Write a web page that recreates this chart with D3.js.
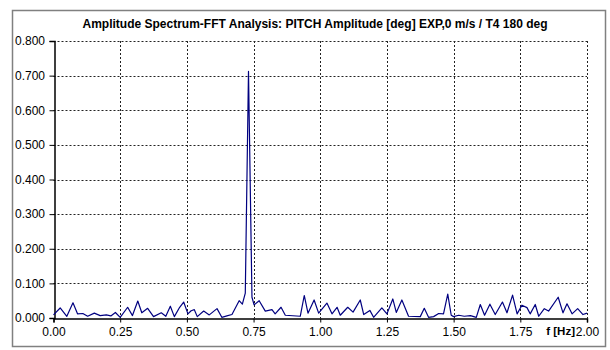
<!DOCTYPE html>
<html>
<head>
<meta charset="utf-8">
<script src="https://cdn.jsdelivr.net/npm/d3@7"></script>
<style>
  html, body { margin: 0; padding: 0; background: #fff; }
  svg { display: block; font-family: "Liberation Sans", Arial, sans-serif; }
</style>
</head>
<body>
<svg id="chart" width="610" height="350"></svg>
<script>
// Spectrum points: frequency [Hz] and pitch amplitude [deg]
const freqHz = [
  0.000, 0.025, 0.050, 0.073, 0.090, 0.110, 0.128, 0.153, 0.175, 0.198,
  0.215, 0.232, 0.250, 0.278, 0.296, 0.316, 0.331, 0.353, 0.375, 0.404,
  0.421, 0.438, 0.453, 0.473, 0.488, 0.504, 0.516, 0.528, 0.539, 0.563,
  0.584, 0.613, 0.631, 0.650, 0.669, 0.696, 0.708, 0.719, 0.731, 0.744,
  0.752, 0.771, 0.794, 0.819, 0.831, 0.853, 0.869, 0.925, 0.940, 0.954,
  0.977, 0.994, 1.025, 1.044, 1.063, 1.075, 1.103, 1.123, 1.150, 1.163,
  1.186, 1.200, 1.231, 1.250, 1.272, 1.285, 1.306, 1.331, 1.375, 1.390,
  1.406, 1.425, 1.444, 1.462, 1.478, 1.491, 1.500, 1.519, 1.540, 1.563,
  1.585, 1.600, 1.616, 1.636, 1.656, 1.683, 1.700, 1.721, 1.738, 1.756,
  1.775, 1.787, 1.806, 1.819, 1.840, 1.856, 1.892, 1.910, 1.925, 1.944,
  1.965, 1.985, 2.000
];
const ampDeg = [
  0.009, 0.029, 0.005, 0.044, 0.012, 0.013, 0.005, 0.014, 0.007, 0.009,
  0.006, 0.016, 0.002, 0.031, 0.007, 0.049, 0.015, 0.028, 0.004, 0.015,
  0.005, 0.034, 0.004, 0.031, 0.046, 0.012, 0.021, 0.024, 0.004, 0.020,
  0.009, 0.027, 0.002, 0.006, 0.010, 0.050, 0.040, 0.072, 0.712, 0.060,
  0.038, 0.050, 0.020, 0.024, 0.012, 0.031, 0.008, 0.005, 0.065, 0.014,
  0.052, 0.014, 0.043, 0.012, 0.031, 0.008, 0.031, 0.017, 0.052, 0.010,
  0.022, 0.002, 0.029, 0.012, 0.055, 0.016, 0.052, 0.005, 0.004, 0.028,
  0.002, 0.004, 0.013, 0.012, 0.069, 0.008, 0.004, 0.008, 0.005, 0.007,
  0.002, 0.039, 0.008, 0.040, 0.010, 0.046, 0.015, 0.066, 0.012, 0.037,
  0.030, 0.012, 0.039, 0.005, 0.027, 0.020, 0.060, 0.015, 0.041, 0.012,
  0.027, 0.010, 0.014
];
const xTicks = [0, 0.25, 0.5, 0.75, 1.0, 1.25, 1.5, 1.75, 2.0];
const yTicks = [0, 0.1, 0.2, 0.3, 0.4, 0.5, 0.6, 0.7, 0.8];
const titleText = "Amplitude Spectrum-FFT Analysis: PITCH Amplitude [deg] EXP,0 m/s / T4 180 deg";
const xAxisTitle = "f [Hz]";

const svg = d3.select("#chart");
const plot = { left: 53.5, right: 587, top: 41, bottom: 318 };

// chart area frame
svg.append("rect")
  .attr("x", 12.5).attr("y", 10.5)
  .attr("width", 593).attr("height", 336)
  .attr("fill", "#fff").attr("stroke", "#808080").attr("stroke-width", 1.5);

const x = d3.scaleLinear().domain([0, 2]).range([plot.left, plot.right]);
const y = d3.scaleLinear().domain([0, 0.8]).range([plot.bottom, plot.top]);

// dashed gridlines
const grid = svg.append("g").attr("stroke", "#222").attr("stroke-width", 1)
  .attr("stroke-dasharray", "2,2").attr("fill", "none");
grid.selectAll("line.h").data(yTicks.filter(d => d > 0)).join("line")
  .attr("class", "h")
  .attr("x1", plot.left).attr("x2", plot.right)
  .attr("y1", d => Math.round(y(d)) + 0.5).attr("y2", d => Math.round(y(d)) + 0.5);
grid.selectAll("line.v").data(xTicks.filter(d => d > 0)).join("line")
  .attr("class", "v")
  .attr("y1", plot.top).attr("y2", plot.bottom)
  .attr("x1", d => Math.round(x(d)) + 0.5).attr("x2", d => Math.round(x(d)) + 0.5);

// axes
const yAxis = d3.axisLeft(y).tickValues(yTicks).tickFormat(d3.format(".3f")).tickSizeOuter(0).tickSize(5).tickPadding(4);
const xAxis = d3.axisBottom(x).tickValues(xTicks).tickFormat(d3.format(".2f")).tickSizeOuter(0).tickSize(4).tickPadding(4.5);

const gy = svg.append("g").attr("transform", `translate(${Math.round(plot.left) + 0.5},0)`).call(yAxis);
const gx = svg.append("g").attr("transform", `translate(0,${Math.round(plot.bottom) + 0.5})`).call(xAxis);
[gx, gy].forEach(g => {
  g.select(".domain").attr("stroke", "#000").attr("stroke-width", 1.5);
  g.selectAll(".tick line").attr("stroke", "#000");
  g.selectAll(".tick text").attr("fill", "#000").attr("font-size", 12)
    .attr("font-family", "'Liberation Sans', Arial, sans-serif");
});
gy.selectAll(".tick text").attr("x", -9.5);

// spectrum line
const pts = freqHz.map((f, i) => [f, ampDeg[i]]);
svg.append("path")
  .datum(pts)
  .attr("fill", "none")
  .attr("stroke", "#000080")
  .attr("stroke-width", 1.2)
  .attr("stroke-linejoin", "round")
  .attr("d", d3.line().x(d => x(d[0])).y(d => y(d[1])));

// titles
svg.append("text")
  .attr("x", 315).attr("y", 28)
  .attr("text-anchor", "middle")
  .attr("font-size", 12).attr("font-weight", "bold")
  .text(titleText);
svg.append("text")
  .attr("x", 575).attr("y", 335)
  .attr("text-anchor", "end")
  .attr("font-size", 11.5).attr("font-weight", "bold")
  .text(xAxisTitle);
</script>
</body>
</html>
